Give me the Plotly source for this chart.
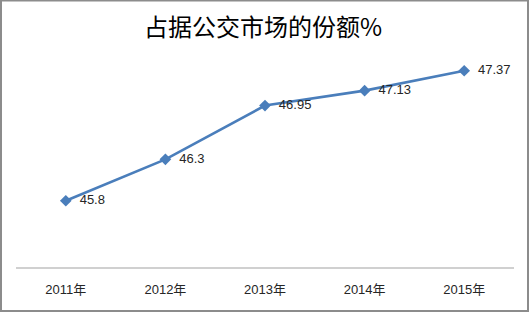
import plotly.graph_objects as go

categories = ["2011年", "2012年", "2013年", "2014年", "2015年"]
values = [45.8, 46.3, 46.95, 47.13, 47.37]
labels = ["45.8", "46.3", "46.95", "47.13", "47.37"]
title = "占据公交市场的份额%"

W, H = 530, 313
blue = "#4a7ebb"

fig = go.Figure()
fig.add_trace(go.Scatter(
    x=categories, y=values,
    mode="lines+markers+text",
    line=dict(color=blue, width=2.6),
    marker=dict(symbol="diamond", size=9, color=blue),
    text=["  " + t for t in labels],
    textposition="middle right",
    textfont=dict(family="Liberation Sans, Arial, sans-serif", size=13, color="#262626"),
    cliponaxis=False,
    hoverinfo="skip",
))

fig.update_layout(
    width=W, height=H,
    margin=dict(l=0, r=0, t=0, b=0),
    paper_bgcolor="white", plot_bgcolor="white",
    showlegend=False,
    title=dict(
        text=title, x=263 / W, xanchor="center", y=1 - 28 / H, yanchor="middle",
        font=dict(family="Noto Sans CJK SC, sans-serif", size=24, color="#000000"),
    ),
    xaxis=dict(
        domain=[16 / W, 514 / W], range=[-0.5, 4.5],
        showgrid=False, zeroline=False,
        showline=True, linecolor="#d0d0d0", linewidth=2,
        ticks="outside", ticklen=9, tickcolor="rgba(0,0,0,0)",
        tickfont=dict(family="Liberation Sans, Noto Sans CJK SC, sans-serif", size=13, color="#262626"),
    ),
    yaxis=dict(
        domain=[1 - 267 / H, 1 - 60 / H], range=[45, 47.5],
        visible=False,
    ),
    shapes=[dict(
        type="rect", xref="paper", yref="paper",
        x0=1 / W, x1=528 / W, y0=1 - 311 / H, y1=1 - 0.5 / H,
        line=dict(color="#8c8c8c", width=2),
    )],
)

fig.write_html("out.html")
